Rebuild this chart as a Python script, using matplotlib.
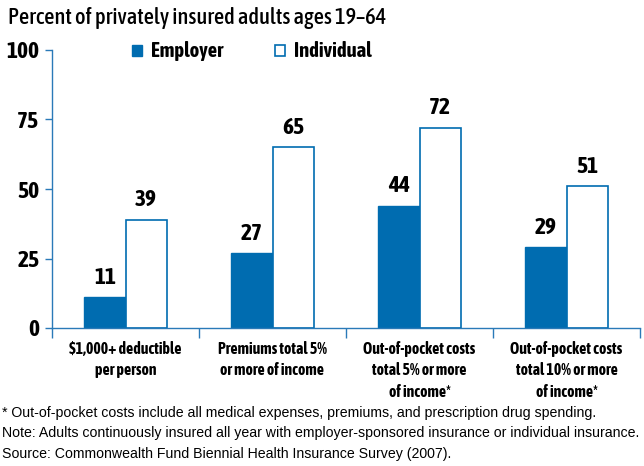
import matplotlib
matplotlib.use("Agg")
import matplotlib.pyplot as plt
from matplotlib import font_manager
import numpy as np

categories = ["$1,000+ deductible\nper person", "Premiums total 5%\nor more of income",
              "Out-of-pocket costs\ntotal 5% or more\nof income*", "Out-of-pocket costs\ntotal 10% or more\nof income*"]
employer = [11, 27, 44, 29]
individual = [39, 65, 72, 51]
yticks = [0, 25, 50, 75, 100]

fl = font_manager.fontManager.ttflist
narrow_bold = sorted({f.name for f in fl if ('Narrow' in f.name or 'Condensed' in f.name)
                      and (f.weight in ('bold', 700) or (isinstance(f.weight, int) and f.weight >= 600))})
narrow_any = sorted({f.name for f in fl if 'Narrow' in f.name or 'Condensed' in f.name})
fam = narrow_bold[0] if narrow_bold else (narrow_any[0] if narrow_any else 'Liberation Sans')
plt.rcParams['font.family'] = [fam, 'DejaVu Sans']
blue = "#006cb0"
axc = "#2a7ab8"

fig = plt.figure(figsize=(6.44, 4.66), dpi=100)
ax = fig.add_axes([52/644, 1-328/466, (640-52)/644, (328-50)/466])
x = np.arange(len(categories))
w = 0.28
b1 = ax.bar(x - w/2, employer, w, color=blue, edgecolor=blue, linewidth=1, label="Employer")
b2 = ax.bar(x + w/2, individual, w, color="white", edgecolor=blue, linewidth=1.2, label="Individual")
vals = []
for xi, v in zip(x - w/2, employer):
    vals.append(ax.text(xi, v + 3, str(v), ha='center', va='bottom', fontsize=13, fontweight='bold'))
for xi, v in zip(x + w/2, individual):
    vals.append(ax.text(xi, v + 3, str(v), ha='center', va='bottom', fontsize=13, fontweight='bold'))

ax.set_xlim(-0.5, len(categories) - 0.5)
ax.set_ylim(0, 100)
ax.set_yticks(yticks)
ax.set_yticklabels([str(t) for t in yticks], fontsize=13, fontweight='bold')
ax.set_xticks(np.arange(-0.5, len(categories), 1.0))
ax.set_xticklabels([])
ax.tick_params(axis='x', which='major', length=7, color=axc, width=1)
ax.tick_params(axis='y', length=5, color=axc, width=1, pad=4)
for s in ['top', 'right']:
    ax.spines[s].set_visible(False)
for s in ['left', 'bottom']:
    ax.spines[s].set_color(axc)
    ax.spines[s].set_linewidth(1)

catlabels = []
for xi, c in zip(x, categories):
    catlabels.append(ax.text(xi, -0.045, c, transform=ax.get_xaxis_transform(), ha='center', va='top',
                             fontsize=12, fontweight='bold', linespacing=1.45))

title = fig.text(8/644, 1-18/466, "Percent of privately insured adults ages 19\u201364", fontsize=15,
                 va='center', ha='left', fontweight='medium')
leg = fig.legend(handles=[b1, b2], loc='center', bbox_to_anchor=(252/644, 1-51/466), ncol=2,
                 frameon=False, prop={'weight': 'bold', 'size': 13},
                 handlelength=0.55, handleheight=0.55, columnspacing=2.9, handletextpad=0.5)

notes = ["* Out-of-pocket costs include all medical expenses, premiums, and prescription drug spending.",
         "Note: Adults continuously insured all year with employer-sponsored insurance or individual insurance.",
         "Source: Commonwealth Fund Biennial Health Insurance Survey (2007)."]
notetexts = []
for i, n in enumerate(notes):
    notetexts.append(fig.text(2/644, 1-(413 + 20.5*i)/466, n, fontsize=10.5, va='center', ha='left',
                              family=['Liberation Sans', 'DejaVu Sans']))

# fit font sizes to the reference text widths
fig.canvas.draw()
r = fig.canvas.get_renderer()
def fit(t, target):
    wpx = t.get_window_extent(r).width
    t.set_fontsize(t.get_fontsize() * target / wpx)
fit(title, 380)
fit(notetexts[1], 638)
for t in notetexts:
    t.set_fontsize(notetexts[1].get_fontsize())
fit(catlabels[0], 111)
for t in catlabels:
    t.set_fontsize(catlabels[0].get_fontsize())
ltexts = leg.get_texts()
wpx = ltexts[0].get_window_extent(r).width
ls = 13 * 72 / wpx
for t in ltexts:
    t.set_fontsize(ls)
wv = vals[-2].get_window_extent(r).width
vs = 13 * 22 / wv
for t in vals:
    t.set_fontsize(vs)
for t in ax.get_yticklabels():
    t.set_fontsize(vs)

fig.savefig("out.png", dpi=100)
